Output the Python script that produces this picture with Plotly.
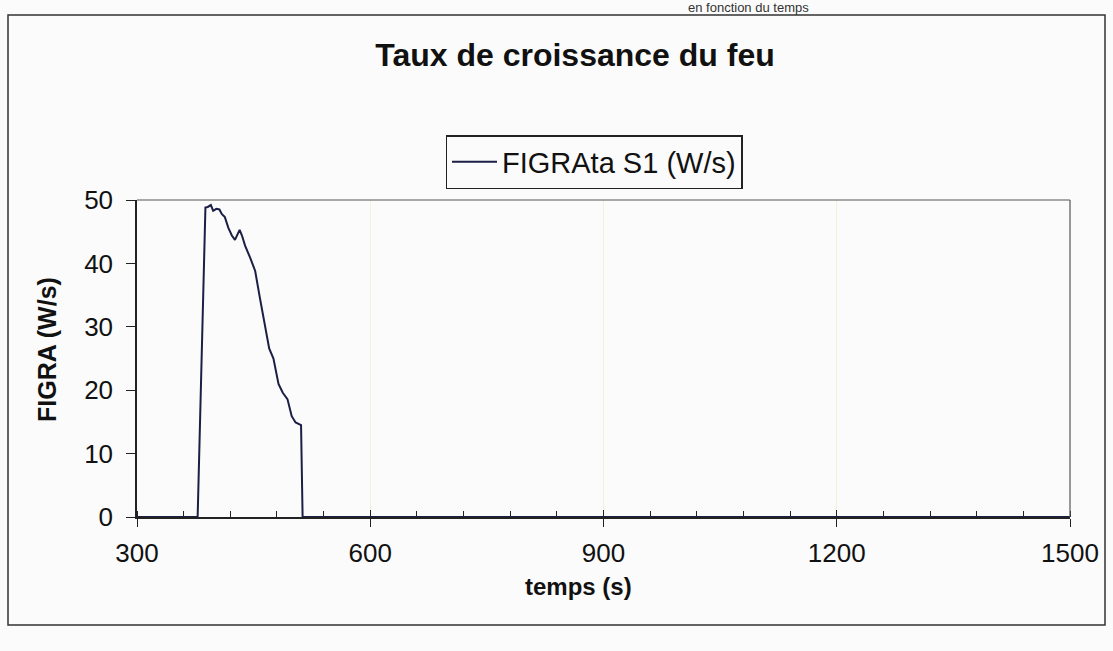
import plotly.graph_objects as go

# FIGRA curve
temps = [300, 378, 388, 391, 395, 398, 402, 406, 409, 413, 417.5, 422, 426, 432,
         435, 439, 445.5, 452, 458, 465, 470, 475.5, 482, 487.5, 493.5, 499, 504, 511,
         513, 1500]
figra = [0, 0, 48.8, 48.9, 49.2, 48.3, 48.6, 48.5, 47.8, 47.3, 45.6, 44.4, 43.7, 45.3,
         44.4, 42.8, 40.9, 38.8, 34.6, 29.8, 26.6, 25.0, 21.0, 19.6, 18.6, 15.9, 14.9, 14.5,
         0, 0]

x_ticks = [300, 600, 900, 1200, 1500]
y_ticks = [0, 10, 20, 30, 40, 50]

FONT = "Liberation Sans, Arial, sans-serif"

# page pixels -> paper coords
PX0, PX1, PY0, PY1 = 137, 1070, 517, 200
def px(x):
    return (x - PX0) / (PX1 - PX0)
def py(y):
    return (PY0 - y) / (PY0 - PY1)

fig = go.Figure()

fig.add_trace(go.Scatter(
    x=temps, y=figra,
    mode="lines",
    line=dict(color="#1b1f45", width=2),
    name="FIGRAta S1 (W/s)",
))

# invisible trace on the overlay axis so the inside half of the cross ticks renders
fig.add_trace(go.Scatter(x=[300, 1500], y=[0, 0], xaxis="x2", mode="lines",
                         line=dict(width=0), showlegend=False, hoverinfo="skip"))

fig.update_layout(
    width=1113, height=651,
    paper_bgcolor="#fbfbfb",
    plot_bgcolor="#fbfbfb",
    margin=dict(l=PX0, r=1113 - PX1, t=PY1, b=651 - PY0),
    font=dict(family=FONT, color="#111111"),
    title=dict(text="<b>Taux de croissance du feu</b>", x=575 / 1113, xref="container",
               xanchor="center", y=1 - 55 / 651, yanchor="middle",
               font=dict(size=32, family=FONT, color="#111111")),
    showlegend=True,
    legend=dict(x=px(594), xanchor="center", y=py(135), yanchor="top",
                bordercolor="#222222", borderwidth=1.5, bgcolor="#fbfbfb",
                font=dict(size=29, family=FONT), itemwidth=45),
    xaxis=dict(
        range=[300, 1500], tickvals=x_ticks, ticks="outside", ticklen=8,
        tickcolor="#222222", tickwidth=1,
        minor=dict(dtick=60, tick0=300, ticks="inside", ticklen=6, tickcolor="#222222",
                   showgrid=False),
        showline=True, linecolor="#222222", linewidth=1.5, mirror=False,
        showgrid=True, gridcolor="#f3f1dc", gridwidth=1,
        zeroline=False, tickfont=dict(size=26, family=FONT), ticklabelstandoff=4,
    ),
    xaxis2=dict(
        range=[300, 1500], overlaying="x", side="bottom", tickvals=x_ticks,
        ticks="inside", ticklen=7, tickcolor="#222222", showticklabels=False,
        showgrid=False, zeroline=False, showline=False,
    ),
    yaxis=dict(
        range=[0, 50], tickvals=y_ticks, ticks="outside", ticklen=9,
        tickcolor="#222222", showline=True, linecolor="#222222", linewidth=1.5,
        showgrid=False, zeroline=False, tickfont=dict(size=26, family=FONT),
        ticklabelstandoff=8,
    ),
    annotations=[
        dict(text="<b>FIGRA (W/s)</b>", textangle=-90, xref="paper", yref="paper",
             x=px(47), y=py(350), xanchor="center", yanchor="middle",
             showarrow=False, font=dict(size=25, family=FONT, color="#111111")),
        dict(text="<b>temps (s)</b>", xref="paper", yref="paper",
             x=px(578), y=py(586), xanchor="center", yanchor="middle",
             showarrow=False, font=dict(size=24, family=FONT, color="#111111")),
        dict(text="en fonction du temps", xref="paper", yref="paper",
             x=px(748), y=py(7), xanchor="center", yanchor="middle",
             showarrow=False, font=dict(size=13, family=FONT, color="#333333")),
    ],
    shapes=[
        # plot area frame (top and right edges)
        dict(type="line", xref="paper", yref="paper", x0=0, x1=1, y0=1, y1=1,
             line=dict(color="#555555", width=1.2)),
        dict(type="line", xref="paper", yref="paper", x0=1, x1=1, y0=0, y1=1,
             line=dict(color="#555555", width=1.2)),
        # outer chart border
        dict(type="rect", xref="paper", yref="paper",
             x0=px(8), x1=px(1105), y0=py(625), y1=py(15),
             line=dict(color="#333333", width=1.5), layer="below"),
    ],
)

# drop the default page margin so the figure fills the window
fig.write_html("out.html", config={"displayModeBar": False},
               post_script="document.body.style.margin='0';")
